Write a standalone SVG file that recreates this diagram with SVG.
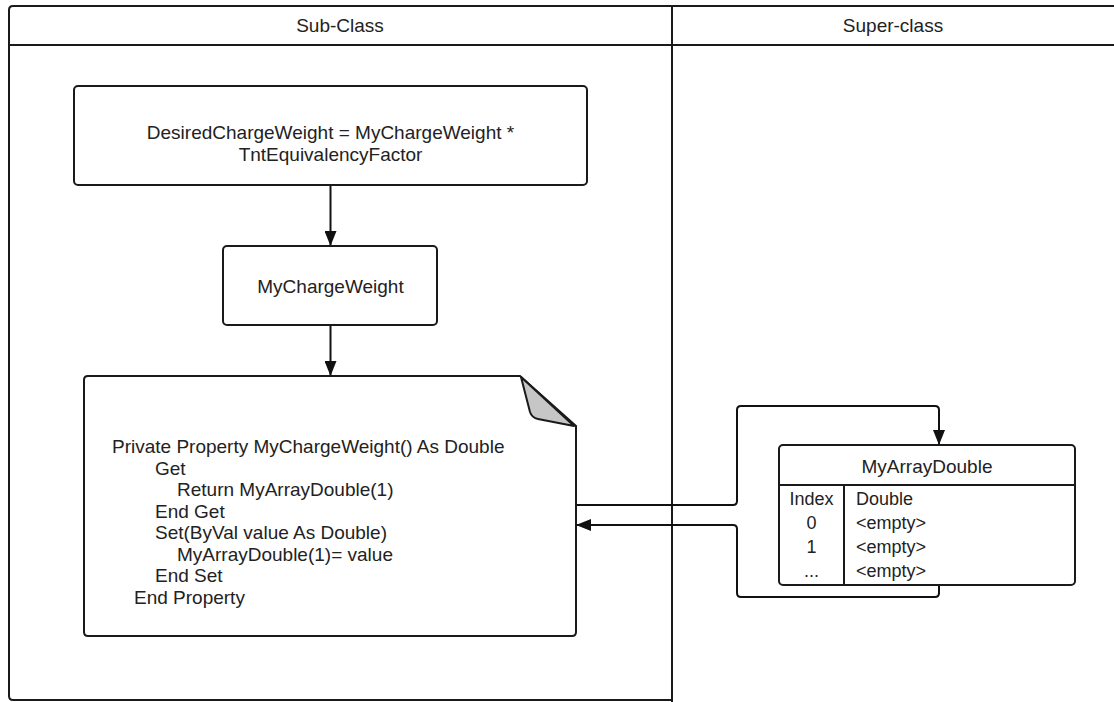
<svg xmlns="http://www.w3.org/2000/svg" width="1114" height="702" viewBox="0 0 1114 702">
  <defs>
    <style>
      .lane { fill: #ffffff; stroke: #1a1a1a; stroke-width: 2; }
      .box { fill: #ffffff; stroke: #1a1a1a; stroke-width: 2; }
      .edge { fill: none; stroke: #111111; stroke-width: 2; stroke-linejoin: round; }
      .t { font-family: "Liberation Sans", Arial, sans-serif; font-size: 19px; fill: #222222; }
      .tc { text-anchor: middle; }
      .sm { font-size: 18px; }
    </style>
    <marker id="arrow" viewBox="0 0 15 12" refX="15" refY="6" markerWidth="15" markerHeight="12" markerUnits="userSpaceOnUse" orient="auto">
      <path d="M0,0 L15,6 L0,12 Z" fill="#111111"/>
    </marker>
  </defs>

  <rect width="1114" height="702" fill="#ffffff"/>

  <!-- swimlanes -->
  <g id="lane-subclass">
    <path class="lane" d="M9,45 V10 Q9,6 13,6 H672 V700 H13 Q9,700 9,696 Z"/>
    <line x1="9" y1="45" x2="672" y2="45" stroke="#1a1a1a" stroke-width="2"/>
    <text class="t tc" x="340" y="32" font-size="16">Sub-Class</text>
  </g>
  <g id="lane-superclass">
    <path class="lane" d="M672,6 H1120 V710 H672 Z"/>
    <line x1="672" y1="45" x2="1120" y2="45" stroke="#1a1a1a" stroke-width="2"/>
    <text class="t tc" x="893" y="32" font-size="16">Super-class</text>
  </g>

  <!-- connectors -->
  <g id="connectors">
    <path class="edge" d="M330.5,186 V246" marker-end="url(#arrow)"/>
    <path class="edge" d="M330.5,325 V376" marker-end="url(#arrow)"/>
    <path class="edge" d="M576,505 H733 Q737,505 737,501 V410 Q737,406 741,406 H935 Q939,406 939,410 V445" marker-end="url(#arrow)"/>
    <path class="edge" d="M939,585 V593 Q939,597 935,597 H741 Q737,597 737,593 V529 Q737,525 733,525 H576" marker-end="url(#arrow)"/>
  </g>

  <!-- formula box -->
  <g id="node-formula">
    <rect class="box" x="74" y="86" width="513" height="99" rx="4"/>
    <text class="t tc" x="330.5" y="139">DesiredChargeWeight = MyChargeWeight *</text>
    <text class="t tc" x="330.5" y="161">TntEquivalencyFactor</text>
  </g>

  <!-- property box -->
  <g id="node-property">
    <rect class="box" x="223" y="246" width="214" height="79" rx="4"/>
    <text class="t tc" x="330.5" y="293">MyChargeWeight</text>
  </g>

  <!-- code note with folded corner -->
  <g id="node-code">
    <path class="box" d="M88,376 H520 L576,426 V632 Q576,636 572,636 H88 Q84,636 84,632 V380 Q84,376 88,376 Z"/>
    <path d="M521,377 L530,412 Q532,418 538,419 L574,426 Z" fill="#c6c6c6" stroke="#1a1a1a" stroke-width="2" stroke-linejoin="round"/>
    <text class="t" xml:space="preserve">
      <tspan x="112" y="453">Private Property MyChargeWeight() As Double</tspan>
      <tspan x="155" y="474.5">Get</tspan>
      <tspan x="177" y="496">Return MyArrayDouble(1)</tspan>
      <tspan x="155" y="517.5">End Get</tspan>
      <tspan x="155" y="539">Set(ByVal value As Double)</tspan>
      <tspan x="177" y="560.5">MyArrayDouble(1)= value</tspan>
      <tspan x="155" y="582">End Set</tspan>
      <tspan x="134" y="603.5">End Property</tspan>
    </text>
  </g>

  <!-- array table -->
  <g id="node-array">
    <rect class="box" x="779" y="445" width="296" height="140" rx="4"/>
    <line x1="779" y1="485" x2="1075" y2="485" stroke="#1a1a1a" stroke-width="2"/>
    <line x1="844" y1="485" x2="844" y2="585" stroke="#1a1a1a" stroke-width="2"/>
    <text class="t tc" x="927" y="473">MyArrayDouble</text>
    <text class="t sm tc" x="811.5" y="505">Index</text>
    <text class="t sm tc" x="811.5" y="528.5">0</text>
    <text class="t sm tc" x="811.5" y="552.5">1</text>
    <text class="t sm tc" x="811.5" y="576.5">...</text>
    <text class="t sm" x="856" y="505">Double</text>
    <text class="t sm" x="856" y="528.5">&lt;empty&gt;</text>
    <text class="t sm" x="856" y="552.5">&lt;empty&gt;</text>
    <text class="t sm" x="856" y="576.5">&lt;empty&gt;</text>
  </g>
</svg>
